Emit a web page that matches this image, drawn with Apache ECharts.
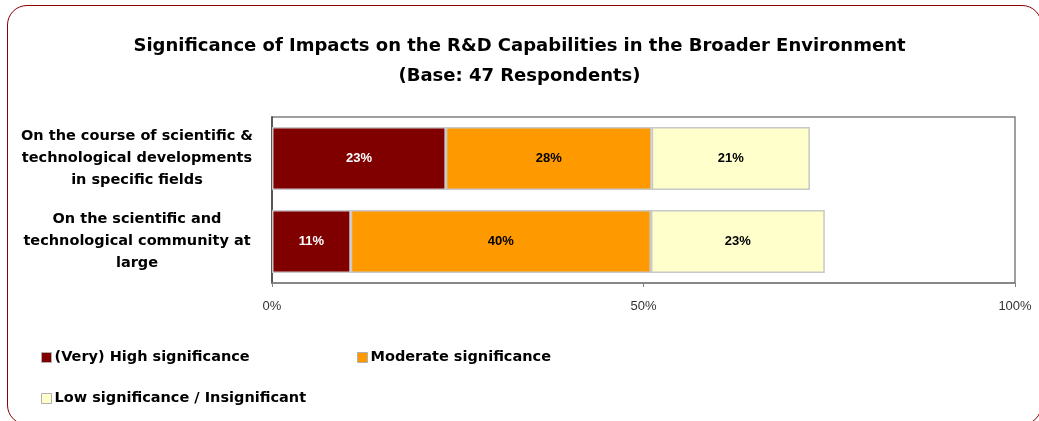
<!DOCTYPE html>
<html>
<head>
<meta charset="utf-8">
<script src="https://cdn.jsdelivr.net/npm/echarts@6/dist/echarts.min.js"></script>
<style>
html,body{margin:0;padding:0;background:#fff;overflow:hidden;}
#frame{position:absolute;left:7px;top:5px;width:1033px;height:418px;border:1.5px solid #8b0000;border-radius:20px;}
#chart{position:absolute;left:0;top:0;width:1039px;height:421px;}
</style>
</head>
<body>
<div id="frame"></div>
<div id="chart"></div>
<script>
const titleText = "Significance of Impacts on the R&D Capabilities in the Broader Environment\n(Base: 47 Respondents)";
const categories = [
  "On the course of scientific &\ntechnological developments\nin specific fields",
  "On the scientific and\ntechnological community at\nlarge"
];
const seriesNames = ["(Very) High significance", "Moderate significance", "Low significance / Insignificant"];
const highValues = [23.4, 10.6];
const moderateValues = [27.7, 40.4];
const lowValues = [21.3, 23.4];
const xTicks = [0, 50, 100];
const colors = ["#800000", "#ff9900", "#ffffcc"];
const labelColors = ["#ffffff", "#000000", "#000000"];

const wideFont = 'DejaVu Sans, Verdana, sans-serif';
const chart = echarts.init(document.getElementById('chart'), null, {renderer: 'canvas'});
const valuesList = [highValues, moderateValues, lowValues];
const series = seriesNames.map((name, i) => ({
  name: name,
  type: 'bar',
  stack: 'total',
  data: valuesList[i],
  barWidth: 63,
  itemStyle: {color: colors[i], borderColor: '#c8c8c8', borderWidth: 1.5},
  label: {
    show: true,
    position: 'inside',
    formatter: p => Math.round(p.value) + '%',
    color: labelColors[i],
    fontFamily: 'Liberation Sans, Arial, sans-serif',
    fontWeight: 'bold',
    fontSize: 13
  },
  emphasis: {disabled: true}
}));

function legendAt(name, left, top) {
  return {
    data: [name],
    left: left, top: top,
    itemWidth: 10, itemHeight: 10,
    icon: 'rect',
    itemGap: 4,
    textStyle: {fontFamily: wideFont, fontWeight: 'bold', fontSize: 14.5, color: '#000', padding: [0,0,0,-2]},
    itemStyle: {borderColor: '#b0b0b0', borderWidth: 1},
    selectedMode: false
  };
}

chart.setOption({
  animation: false,
  title: {
    text: titleText,
    left: 'center',
    top: 26,
    textStyle: {fontFamily: wideFont, fontWeight: 'bold', fontSize: 18, color: '#000', lineHeight: 30}
  },
  legend: [
    legendAt(seriesNames[0], 36, 345),
    legendAt(seriesNames[1], 352, 345),
    legendAt(seriesNames[2], 36, 386)
  ],
  grid: {left: 272, right: 24, top: 117, bottom: 138, show: true, borderColor: '#808080', borderWidth: 1.5, backgroundColor: 'transparent'},
  xAxis: {
    type: 'value',
    min: 0, max: 100, interval: 50,
    axisLine: {show: true, lineStyle: {color: '#808080', width: 1.5}},
    axisTick: {show: true, length: 4, lineStyle: {color: '#808080'}},
    splitLine: {show: false},
    axisLabel: {
      formatter: v => xTicks.includes(v) ? v + '%' : '',
      color: '#333', fontSize: 13, margin: 17,
      fontFamily: 'Liberation Sans, Arial, sans-serif'
    }
  },
  yAxis: {
    type: 'category',
    data: categories,
    inverse: true,
    axisLine: {show: true, lineStyle: {color: '#404040', width: 1.5}},
    axisTick: {show: false},
    axisLabel: {
      align: 'center',
      margin: 135,
      color: '#000',
      fontFamily: wideFont,
      fontWeight: 'bold',
      fontSize: 14.5,
      lineHeight: 22
    }
  },
  series: series
});
</script>
</body>
</html>
